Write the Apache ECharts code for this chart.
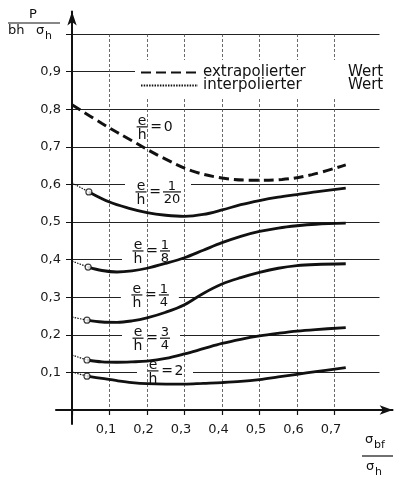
<!DOCTYPE html>
<html><head><meta charset="utf-8">
<script src="https://cdn.jsdelivr.net/npm/echarts@6/dist/echarts.min.js"></script>
<style>html,body{margin:0;padding:0;background:#fff}#c{width:394px;height:479px}</style>
</head><body><div id="c"></div>
<script>
// ---- tick labels ----
const xTickValues = [0.1, 0.2, 0.3, 0.4, 0.5, 0.6, 0.7];
const xTickLabels = ['0,1', '0,2', '0,3', '0,4', '0,5', '0,6', '0,7'];
const yTickValues = [0.1, 0.2, 0.3, 0.4, 0.5, 0.6, 0.7, 0.8, 0.9];
const yTickLabels = ['0,1', '0,2', '0,3', '0,4', '0,5', '0,6', '0,7', '0,8', '0,9'];

// ---- e/h = 0 (extrapolated, dashed) ----
const c0X = [0, 0.08, 0.16, 0.24, 0.32, 0.40, 0.48, 0.56, 0.64, 0.73];
const c0Y = [0.812, 0.762, 0.716, 0.672, 0.636, 0.617, 0.611, 0.613, 0.626, 0.652];

// ---- e/h = 1/20 ----
const i20X = [0, 0.045];
const i20Y = [0.604, 0.58];
const c20X = [0.045, 0.1, 0.15, 0.2, 0.25, 0.3, 0.35, 0.4, 0.45, 0.5, 0.55, 0.6, 0.65, 0.73];
const c20Y = [0.58, 0.553, 0.537, 0.525, 0.518, 0.515, 0.52, 0.532, 0.546, 0.557, 0.566, 0.573, 0.58, 0.59];

// ---- e/h = 1/8 ----
const i8X = [0, 0.043];
const i8Y = [0.396, 0.38];
const c8X = [0.043, 0.08, 0.12, 0.16, 0.2, 0.25, 0.3, 0.35, 0.4, 0.45, 0.5, 0.55, 0.6, 0.65, 0.73];
const c8Y = [0.38, 0.371, 0.367, 0.37, 0.377, 0.39, 0.405, 0.425, 0.445, 0.462, 0.475, 0.484, 0.49, 0.494, 0.497];

// ---- e/h = 1/4 ----
const i4X = [0, 0.04];
const i4Y = [0.247, 0.239];
const c4X = [0.04, 0.08, 0.12, 0.16, 0.2, 0.25, 0.3, 0.35, 0.4, 0.45, 0.5, 0.55, 0.6, 0.65, 0.73];
const c4Y = [0.239, 0.234, 0.233, 0.237, 0.245, 0.26, 0.28, 0.31, 0.335, 0.352, 0.366, 0.377, 0.384, 0.387, 0.389];

// ---- e/h = 3/4 ----
const i34X = [0, 0.04];
const i34Y = [0.146, 0.133];
const c34X = [0.04, 0.08, 0.12, 0.16, 0.2, 0.25, 0.3, 0.35, 0.4, 0.45, 0.5, 0.55, 0.6, 0.65, 0.73];
const c34Y = [0.133, 0.128, 0.127, 0.128, 0.13, 0.137, 0.149, 0.163, 0.177, 0.188, 0.197, 0.204, 0.21, 0.214, 0.219];

// ---- e/h = 2 ----
const i2X = [0, 0.04];
const i2Y = [0.101, 0.09];
const c2X = [0.04, 0.08, 0.12, 0.16, 0.2, 0.25, 0.3, 0.35, 0.4, 0.45, 0.5, 0.55, 0.6, 0.65, 0.73];
const c2Y = [0.09, 0.084, 0.078, 0.073, 0.07, 0.069, 0.069, 0.071, 0.073, 0.076, 0.081, 0.088, 0.095, 0.102, 0.113];

// ---- curve labels (value of e/h and anchor in data units) ----
const labelValues = ['0', '1/20', '1/8', '1/4', '3/4', '2'];
const labelAnchorX = [0.187, 0.184, 0.176, 0.173, 0.176, 0.216];
const labelAnchorY = [0.753, 0.58, 0.423, 0.306, 0.191, 0.104];

const legendNames = ['extrapolierter Wert', 'interpolierter Wert'];

// ---------------------------------------------------------------
const FONT = '"DejaVu Sans", sans-serif';
const INK = '#111';
const pairs = (xs, ys) => xs.map((x, i) => [x, ys[i]]);

const solid = [
  { name: 'e/h = 1/20', ix: i20X, iy: i20Y, x: c20X, y: c20Y },
  { name: 'e/h = 1/8', ix: i8X, iy: i8Y, x: c8X, y: c8Y },
  { name: 'e/h = 1/4', ix: i4X, iy: i4Y, x: c4X, y: c4Y },
  { name: 'e/h = 3/4', ix: i34X, iy: i34Y, x: c34X, y: c34Y },
  { name: 'e/h = 2', ix: i2X, iy: i2Y, x: c2X, y: c2Y }
];

const series = [];
series.push({
  type: 'line', name: legendNames[0], xAxisIndex: 0, yAxisIndex: 0,
  data: pairs(c0X, c0Y), smooth: 0.35, symbol: 'none', z: 5,
  itemStyle: { color: INK },
  lineStyle: { color: INK, width: 3, type: [10, 5] }
});
solid.forEach(c => {
  series.push({
    type: 'line', name: c.name, xAxisIndex: 0, yAxisIndex: 0,
    data: pairs(c.x, c.y), smooth: 0.35, symbol: 'none', z: 5,
    itemStyle: { color: INK },
    lineStyle: { color: INK, width: 2.8 }
  });
  series.push({
    type: 'line', name: legendNames[1], xAxisIndex: 0, yAxisIndex: 0,
    data: pairs(c.ix, c.iy), symbol: 'none', z: 5,
    itemStyle: { color: INK },
    lineStyle: { color: INK, width: 1.2, type: [1.5, 1.2] }
  });
});
series.push({
  type: 'scatter', name: 'Punkte', xAxisIndex: 0, yAxisIndex: 0,
  data: solid.map(c => [c.x[0], c.y[0]]),
  symbol: 'circle', symbolSize: 6, z: 7,
  itemStyle: { color: '#fff', borderColor: INK, borderWidth: 1.2 }
});

function txt(s, x, y, va, size) {
  return { type: 'text', style: { text: s, x: x, y: y, align: 'center', verticalAlign: va,
    font: (size || 13) + 'px ' + FONT, fill: INK } };
}
function hline(x1, x2, y, w) {
  return { type: 'line', shape: { x1: x1, y1: y, x2: x2, y2: y }, style: { stroke: INK, lineWidth: w || 1.2 } };
}
function renderLabel(params, api) {
  const i = params.dataIndex;
  const p = api.coord([api.value(0), api.value(1)]);
  const cx = p[0], cy = p[1];
  const val = labelValues[i];
  const parts = val.split('/');
  const isFrac = parts.length === 2;
  const eqX = cx + 14;
  const vw = isFrac ? Math.max(parts[0].length, parts[1].length) * 8 + 2 : 8;
  const vx = eqX + 8 + vw / 2;
  const right = vx + vw / 2;
  const els = [];
  els.push({ type: 'rect', shape: { x: cx - 16, y: cy - 10, width: right + 10 - (cx - 16), height: 21 }, style: { fill: '#fff' } });
  els.push(txt('e', cx, cy + 1, 'bottom', 14));
  els.push(hline(cx - 5.5, cx + 5.5, cy));
  els.push(txt('h', cx, cy + 1, 'top', 14));
  els.push(txt('=', eqX, cy, 'middle', 14));
  if (isFrac) {
    els.push(txt(parts[0], vx, cy + 1, 'bottom'));
    els.push(hline(vx - vw / 2, vx + vw / 2, cy));
    els.push(txt(parts[1], vx, cy + 1, 'top'));
  } else {
    els.push(txt(val, vx, cy, 'middle', 14));
  }
  return { type: 'group', children: els };
}
series.push({
  type: 'custom', name: 'Beschriftung', xAxisIndex: 0, yAxisIndex: 0, z: 2, clip: false,
  data: labelAnchorX.map((x, i) => [x, labelAnchorY[i]]),
  encode: { x: 0, y: 1 },
  renderItem: renderLabel, silent: true
});

function tickFmt(values, labels) {
  return v => { const k = values.findIndex(t => Math.abs(t - v) < 1e-6); return k < 0 ? '' : labels[k]; };
}

const option = {
  animation: false,
  backgroundColor: '#fff',
  textStyle: { fontFamily: FONT },
  grid: [
    { left: 72, top: 34, width: 307.5, height: 376, outerBoundsMode: 'none', containLabel: false },
    { left: 55.9, top: 11.4, width: 336.75, height: 412.5, outerBoundsMode: 'none', containLabel: false },
    { left: 72, top: 34, width: 262.5, height: 376, outerBoundsMode: 'none', containLabel: false }
  ],
  xAxis: [
    { gridIndex: 0, type: 'value', min: 0, max: 0.82, show: false },
    { gridIndex: 1, type: 'value', min: -0.043, max: 0.855, z: 6,
      axisLine: { show: true, onZero: true, symbol: ['none', 'arrow'], symbolSize: [7, 13], lineStyle: { color: INK, width: 1.8 } },
      axisTick: { show: false }, axisLabel: { show: false }, splitLine: { show: false } },
    { gridIndex: 2, type: 'value', min: 0, max: 0.7, interval: 0.1, z: 3,
      axisLine: { show: false },
      axisTick: { show: true, length: 5, lineStyle: { color: INK, width: 1.2 } },
      axisLabel: { show: true, margin: 13, fontSize: 13, color: '#1a1a1a', fontFamily: FONT,
        padding: [0, 7, 0, 0], customValues: xTickValues, formatter: tickFmt(xTickValues, xTickLabels) },
      splitLine: { show: true, lineStyle: { color: '#444', width: 0.8, type: [3, 2] } } }
  ],
  yAxis: [
    { gridIndex: 0, type: 'value', min: 0, max: 1, interval: 0.1, z: 0,
      axisLine: { show: false },
      axisTick: { show: true, length: 6, lineStyle: { color: INK, width: 1 } },
      axisLabel: { show: true, margin: 11, fontSize: 13, color: '#1a1a1a', fontFamily: FONT,
        customValues: yTickValues, formatter: tickFmt(yTickValues, yTickLabels) },
      splitLine: { show: true, lineStyle: { color: '#222', width: 1 } } },
    { gridIndex: 1, type: 'value', min: -0.037, max: 1.06, z: 6,
      axisLine: { show: true, onZero: true, symbol: ['none', 'arrow'], symbolSize: [7, 14], lineStyle: { color: INK, width: 2 } },
      axisTick: { show: false }, axisLabel: { show: false }, splitLine: { show: false } },
    { gridIndex: 2, type: 'value', min: 0, max: 1, show: false }
  ],
  legend: {
    data: legendNames, orient: 'vertical', left: 135, top: 60,
    padding: [5, 8, 5, 5], itemGap: -2, itemWidth: 57, itemHeight: 11,
    backgroundColor: '#fff', selectedMode: false,
    itemStyle: { opacity: 0 },
    textStyle: { fontFamily: FONT, fontSize: 15, color: INK, lineHeight: 11,
      rich: { a: { width: 145, fontSize: 15, fontFamily: FONT, color: INK, lineHeight: 11 },
              b: { fontSize: 15, fontFamily: FONT, color: INK, lineHeight: 11 } } },
    formatter: name => { const k = name.lastIndexOf(' '); return '{a|' + name.slice(0, k) + '}{b|' + name.slice(k + 1) + '}'; }
  },
  graphic: [
    { type: 'text', x: 33, y: 15, style: { text: 'P', font: '13px ' + FONT, fill: INK, align: 'center', verticalAlign: 'middle' } },
    { type: 'line', shape: { x1: 8, y1: 23, x2: 60, y2: 23 }, style: { stroke: INK, lineWidth: 1.2 } },
    { type: 'text', x: 8, y: 31, style: { text: 'bh', font: '13px ' + FONT, fill: INK, align: 'left', verticalAlign: 'middle' } },
    { type: 'text', x: 36, y: 31, style: { text: 'σ', font: '13px ' + FONT, fill: INK, align: 'left', verticalAlign: 'middle' } },
    { type: 'text', x: 45, y: 36, style: { text: 'h', font: '11px ' + FONT, fill: INK, align: 'left', verticalAlign: 'middle' } },

    { type: 'text', x: 365, y: 440, style: { text: 'σ', font: '13px ' + FONT, fill: INK, align: 'left', verticalAlign: 'middle' } },
    { type: 'text', x: 374, y: 445, style: { text: 'bf', font: '11px ' + FONT, fill: INK, align: 'left', verticalAlign: 'middle' } },
    { type: 'line', shape: { x1: 362, y1: 456, x2: 393, y2: 456 }, style: { stroke: INK, lineWidth: 1.2 } },
    { type: 'text', x: 366, y: 467, style: { text: 'σ', font: '13px ' + FONT, fill: INK, align: 'left', verticalAlign: 'middle' } },
    { type: 'text', x: 375, y: 472, style: { text: 'h', font: '11px ' + FONT, fill: INK, align: 'left', verticalAlign: 'middle' } }
  ],
  series: series
};

const chart = echarts.init(document.getElementById('c'), null, { renderer: 'canvas', width: 394, height: 479 });
chart.setOption(option);
</script>
</body></html>
